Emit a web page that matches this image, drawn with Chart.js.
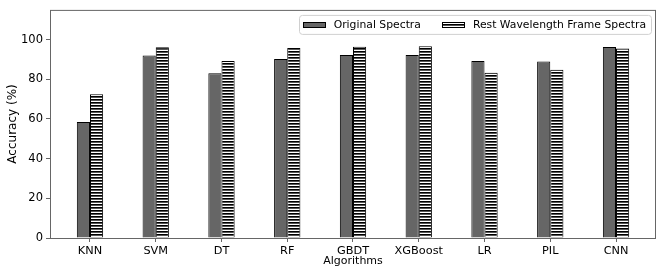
<!DOCTYPE html>
<html>
<head>
<meta charset="utf-8">
<script src="https://cdn.jsdelivr.net/npm/chart.js@4.4.1/dist/chart.umd.min.js"></script>
<style>
    html, body { margin: 0; padding: 0; background: #fff; }
    #wrap { width: 665px; height: 277px; }
</style>
</head>
<body>
<div id="wrap"><canvas id="accChart" width="665" height="277"></canvas></div>
<script>
// Data
const algorithms = ["KNN", "SVM", "DT", "RF", "GBDT", "XGBoost", "LR", "PIL", "CNN"];
const originalSpectra = [58.5, 92.0, 83.0, 90.2, 92.2, 92.3, 89.3, 89.0, 96.3];
const restFrameSpectra = [72.5, 96.2, 89.3, 95.8, 96.4, 96.7, 83.3, 84.8, 95.6];
const yTicks = [0, 20, 40, 60, 80, 100];

const FONT = "'DejaVu Sans', sans-serif";

// horizontal hatch like matplotlib's '---'
function makeHatch() {
    const c = document.createElement("canvas");
    c.width = 4;
    c.height = 3;
    const g = c.getContext("2d");
    g.fillStyle = "#fff";
    g.fillRect(0, 0, 4, 3);
    g.fillStyle = "#000";
    g.fillRect(0, 0, 4, 1);
    g.fillStyle = "#555";
    g.fillRect(0, 1, 4, 1);
    return g.createPattern(c, "repeat");
}
const hatch = makeHatch();

// frame around the plot area
const framePlugin = {
    id: "frame",
    afterDraw(chart) {
        const { ctx, chartArea: a } = chart;
        ctx.save();
        ctx.strokeStyle = "#666";
        ctx.lineWidth = 1;
        ctx.strokeRect(a.left + 0.5, a.top + 0.5, a.right - a.left - 1, a.bottom - a.top);
        ctx.restore();
    }
};

// matplotlib style legend box in the upper right corner
const legendPlugin = {
    id: "boxLegend",
    afterDraw(chart) {
        const { ctx, chartArea: a } = chart;
        const sets = chart.data.datasets;
        ctx.save();
        ctx.font = "10.8px " + FONT;
        ctx.textBaseline = "middle";
        const swW = 23, swH = 6, gap = 8, itemGap = 21, padL = 4, padR = 5;
        const widths = sets.map(d => ctx.measureText(d.label).width);
        const total = padL + widths.reduce((s, w) => s + swW + gap + w, 0) + itemGap * (sets.length - 1) + padR;
        const right = a.right - 5;
        const left = right - total;
        const top = a.top + 5, h = 19;
        ctx.strokeStyle = "#d0d0d0";
        ctx.fillStyle = "rgba(255,255,255,0.8)";
        ctx.beginPath();
        ctx.roundRect(Math.round(left) + 0.5, top + 0.5, Math.round(total), h, 3);
        ctx.fill();
        ctx.stroke();
        const cy = top + h / 2 + 1;
        let x = left + padL;
        sets.forEach((d, i) => {
            ctx.fillStyle = d.backgroundColor;
            ctx.fillRect(Math.round(x), Math.round(cy - swH / 2), swW, swH);
            ctx.strokeStyle = "#000";
            ctx.strokeRect(Math.round(x) + 0.5, Math.round(cy - swH / 2) + 0.5, swW - 1, swH - 1);
            x += swW + gap;
            ctx.fillStyle = "#000";
            ctx.fillText(d.label, x, cy);
            x += widths[i] + itemGap;
        });
        ctx.restore();
    }
};

const toPoints = arr => arr.map((v, i) => ({ x: i, y: v }));

new Chart(document.getElementById("accChart"), {
    type: "bar",
    data: {
        datasets: [
            {
                label: "Original Spectra",
                data: toPoints(originalSpectra),
                backgroundColor: "#666666",
                borderColor: "#000",
                borderWidth: 1,
                categoryPercentage: 0.4,
                barPercentage: 1.0
            },
            {
                label: "Rest Wavelength Frame Spectra",
                data: toPoints(restFrameSpectra),
                backgroundColor: hatch,
                borderColor: "#000",
                borderWidth: 1,
                categoryPercentage: 0.4,
                barPercentage: 1.0
            }
        ]
    },
    options: {
        responsive: false,
        animation: false,
        layout: { padding: { left: 0, right: 9, top: 8, bottom: 0 } },
        plugins: {
            tooltip: { enabled: false },
            legend: { display: false }
        },
        scales: {
            x: {
                type: "linear",
                min: -0.608,
                max: 8.608,
                offset: false,
                afterBuildTicks: s => { s.ticks = algorithms.map((_, i) => ({ value: i })); },
                afterFit: s => { s.height = 39; },
                ticks: {
                    autoSkip: false,
                    maxRotation: 0,
                    padding: 2,
                    color: "#000",
                    font: { family: FONT, size: 11.3 },
                    callback: v => algorithms[v] ?? ""
                },
                grid: { display: true, offset: false, drawOnChartArea: false, tickLength: 4, color: "#666" },
                border: { display: false },
                title: {
                    display: true,
                    text: "Algorithms",
                    color: "#000",
                    font: { family: FONT, size: 11 },
                    padding: { top: 0, bottom: 9 }
                }
            },
            y: {
                min: 0,
                max: 115,
                afterBuildTicks: s => { s.ticks = yTicks.map(v => ({ value: v })); },
                afterFit: s => { s.width = 50; },
                ticks: {
                    padding: 3,
                    color: "#000",
                    font: { family: FONT, size: 11.5 }
                },
                grid: { display: true, drawOnChartArea: false, tickLength: 4, color: "#666" },
                border: { display: false },
                title: {
                    display: true,
                    text: "Accuracy (%)",
                    color: "#000",
                    font: { family: FONT, size: 12 },
                    padding: { top: 6, bottom: 0 }
                }
            }
        }
    },
    plugins: [framePlugin, legendPlugin]
});
</script>
</body>
</html>
